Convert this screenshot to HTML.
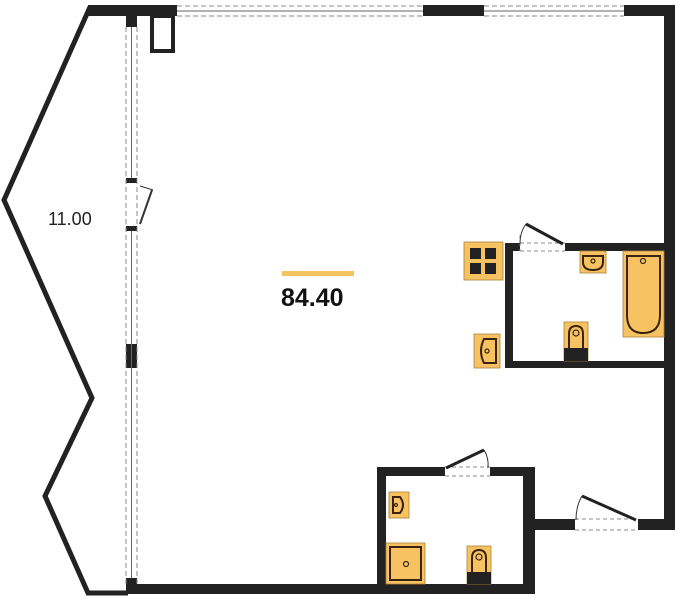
<!DOCTYPE html>
<html><head><style>body{margin:0;background:#fff}svg{display:block}</style></head><body>
<svg width="676" height="600" viewBox="0 0 676 600" xmlns="http://www.w3.org/2000/svg">
<g fill="#222">
<rect x="88" y="5" width="89" height="11"/>
<rect x="423" y="5" width="61" height="11"/>
<rect x="624" y="5" width="51" height="11"/>
<rect x="664" y="5" width="11" height="525"/>
<rect x="126" y="5" width="11" height="22"/>
<rect x="128" y="584" width="407" height="10"/>
<rect x="126" y="578" width="11" height="16"/>
<rect x="126" y="344" width="11" height="24"/>
<rect x="126" y="178" width="11" height="5"/>
<rect x="126" y="226" width="11" height="5"/>
<rect x="377" y="467" width="9" height="127"/>
<rect x="377" y="467" width="68" height="9"/>
<rect x="490" y="467" width="45" height="9"/>
<rect x="523" y="467" width="12" height="127"/>
<rect x="523" y="519" width="52" height="11"/>
<rect x="638" y="519" width="37" height="11"/>
<rect x="505" y="243" width="15" height="8"/>
<rect x="565" y="243" width="110" height="8"/>
<rect x="505" y="243" width="8" height="125"/>
<rect x="505" y="361" width="170" height="7"/>
</g>
<rect x="152" y="16" width="21" height="35" fill="none" stroke="#222" stroke-width="4"/>
<polyline points="90,7 4,200 92,398 45,496 88,593 128,593" fill="none" stroke="#222" stroke-width="5"/>
<g stroke="#888" stroke-width="1" fill="none">
<line x1="177" y1="6" x2="423" y2="6" stroke-dasharray="5,3"/>
<line x1="177" y1="16" x2="423" y2="16" stroke-dasharray="5,3"/>
<line x1="177" y1="11" x2="423" y2="11" stroke="#666"/>
<line x1="484" y1="6" x2="624" y2="6" stroke-dasharray="5,3"/>
<line x1="484" y1="16" x2="624" y2="16" stroke-dasharray="5,3"/>
<line x1="484" y1="11" x2="624" y2="11" stroke="#666"/>
<line x1="126" y1="27" x2="126" y2="584" stroke-dasharray="5,3"/>
<line x1="137" y1="27" x2="137" y2="584" stroke-dasharray="5,3"/>
<line x1="131.5" y1="27" x2="131.5" y2="178" stroke="#666"/>
<line x1="131.5" y1="231" x2="131.5" y2="578" stroke="#666"/>
<line x1="520" y1="235" x2="520" y2="251" stroke-dasharray="4,3"/>
<line x1="520" y1="243" x2="565" y2="243" stroke-dasharray="4,3"/>
<line x1="520" y1="251" x2="565" y2="251" stroke-dasharray="4,3"/>
<line x1="445" y1="467" x2="490" y2="467" stroke-dasharray="4,3"/>
<line x1="445" y1="476" x2="490" y2="476" stroke-dasharray="4,3"/>
<line x1="575" y1="519" x2="638" y2="519" stroke-dasharray="4,3"/>
<line x1="575" y1="530" x2="638" y2="530" stroke-dasharray="4,3"/>
<path d="M526 224 Q520 232 520 244" stroke="#333"/>
<path d="M484 450 Q489 458 488 468" stroke="#333"/>
<path d="M582 496 Q576 506 576 520" stroke="#333"/>
<path d="M152 190 L140 224" stroke="#333" stroke-width="2"/>
<path d="M140 186 L153 190" stroke="#333"/>
</g>
<g stroke="#222" stroke-width="3">
<line x1="526" y1="224" x2="563" y2="244"/>
<line x1="446" y1="468" x2="484" y2="450"/>
<line x1="582" y1="496" x2="636" y2="520"/>
</g>
<g fill="#f7c362" stroke="#a8823a" stroke-width="0.8">
<rect x="464" y="242" width="39" height="38"/>
<rect x="474" y="334" width="26" height="34"/>
<rect x="580" y="251" width="26" height="22"/>
<rect x="623" y="251" width="41" height="86"/>
<rect x="564" y="322" width="24" height="39"/>
<rect x="389" y="492" width="20" height="26"/>
<rect x="386" y="543" width="39" height="41"/>
<rect x="467" y="546" width="24" height="38"/>
</g>
<g fill="#222">
<rect x="470" y="248" width="11" height="11"/><rect x="485" y="248" width="11" height="11"/>
<rect x="470" y="263" width="11" height="11"/><rect x="485" y="263" width="11" height="11"/>
<rect x="564" y="348" width="24" height="13"/>
<rect x="467" y="572" width="24" height="12"/>
</g>
<g fill="none" stroke="#3a2410" stroke-width="2">
<path d="M496 339 H484 Q478 351 484 363 H496 Z"/>
<path d="M583 256 H603 V262 Q603 270 593 270 Q583 270 583 262 Z"/>
<path d="M627 256 H660 V315 Q660 333 643 333 Q627 333 627 315 Z"/>
<path d="M569 348 V334 Q569 326 576 326 Q583 326 583 334 V348"/>
<path d="M393 497 H400 Q406 505 400 513 H393 Z"/>
<rect x="390" y="547" width="31" height="33"/>
<path d="M472 572 V558 Q472 550 479 550 Q486 550 486 558 V572"/>
</g>
<g fill="none" stroke="#3a2410" stroke-width="1.2">
<circle cx="487" cy="351" r="2"/><circle cx="593" cy="261" r="2"/><circle cx="643" cy="261" r="2.5"/>
<circle cx="576" cy="333" r="3"/><circle cx="396" cy="505" r="1.5"/><circle cx="406" cy="564" r="2.5"/><circle cx="479" cy="557" r="3"/>
</g>
<rect x="282" y="271" width="72" height="5" fill="#f7c362"/>
<text x="48" y="225" font-family="Liberation Sans, sans-serif" font-size="18" fill="#222">11.00</text>
<text x="281" y="306" font-family="Liberation Sans, sans-serif" font-size="25" font-weight="bold" fill="#111">84.40</text>
</svg>
</body></html>
